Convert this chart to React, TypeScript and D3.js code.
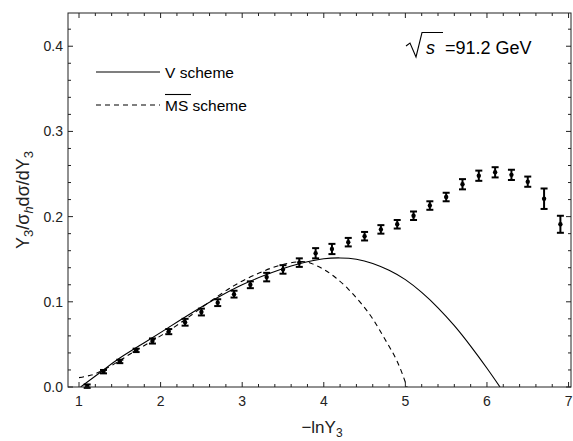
import React from "react";
import * as d3 from "d3";

const dataX = [1.1, 1.3, 1.5, 1.7, 1.9, 2.1, 2.3, 2.5, 2.7, 2.9, 3.1, 3.3, 3.5, 3.7, 3.9, 4.1, 4.3, 4.5, 4.7, 4.9, 5.1, 5.3, 5.5, 5.7, 5.9, 6.1, 6.3, 6.5, 6.7, 6.9];
const dataY = [0.001, 0.018, 0.030, 0.043, 0.054, 0.065, 0.076, 0.088, 0.099, 0.109, 0.120, 0.129, 0.138, 0.146, 0.157, 0.162, 0.170, 0.177, 0.185, 0.191, 0.201, 0.213, 0.223, 0.238, 0.248, 0.252, 0.249, 0.241, 0.221, 0.191];
const dataErr = [0.002, 0.002, 0.002, 0.002, 0.003, 0.003, 0.004, 0.004, 0.004, 0.004, 0.004, 0.005, 0.005, 0.005, 0.006, 0.006, 0.005, 0.005, 0.005, 0.005, 0.005, 0.005, 0.005, 0.006, 0.006, 0.006, 0.006, 0.006, 0.012, 0.010];

const vSchemeX = [1.02, 1.3, 1.5, 1.8, 2.1, 2.4, 2.7, 3.0, 3.3, 3.6, 3.8, 4.0, 4.2, 4.4, 4.6, 4.8, 5.0, 5.2, 5.4, 5.6, 5.8, 6.0, 6.16];
const vSchemeY = [0.0, 0.020, 0.034, 0.052, 0.070, 0.088, 0.105, 0.120, 0.132, 0.1420, 0.147, 0.1505, 0.1515, 0.150, 0.145, 0.137, 0.126, 0.111, 0.093, 0.072, 0.048, 0.022, 0.0];

const msSchemeX = [1.0, 1.15, 1.3, 1.5, 1.7, 2.1, 2.5, 2.9, 3.2, 3.45, 3.7, 3.85, 4.0, 4.15, 4.3, 4.45, 4.6, 4.75, 4.9, 5.02];
const msSchemeY = [0.011, 0.014, 0.020, 0.031, 0.043, 0.066, 0.093, 0.119, 0.1335, 0.1425, 0.147, 0.145, 0.138, 0.128, 0.115, 0.099, 0.080, 0.056, 0.030, 0.0];

const xTicks = [1, 2, 3, 4, 5, 6, 7];
const yTicks = [0.0, 0.1, 0.2, 0.3, 0.4];

const W = 573;
const H = 441;
const L = 68, R = 571, T = 13, B = 387;

export default function App() {
  const x = d3.scaleLinear().domain([0.865, 7.03]).range([L, R]);
  const y = d3.scaleLinear().domain([0, 0.439]).range([B, T]);

  const xMinor = d3.range(1, 7.01, 0.2).map((v) => +v.toFixed(2)).filter((v) => Math.abs(v - Math.round(v)) > 1e-6);
  const yMinor = d3.range(0, 0.44, 0.02).map((v) => +v.toFixed(3)).filter((v) => Math.abs(v * 10 - Math.round(v * 10)) > 1e-6);

  const line = d3.line<[number, number]>().x((d) => x(d[0])).y((d) => y(d[1])).curve(d3.curveNatural);
  const vPath = line(vSchemeX.map((v, i) => [v, vSchemeY[i]] as [number, number])) || "";
  const msPath = line(msSchemeX.map((v, i) => [v, msSchemeY[i]] as [number, number])) || "";

  const font = "'Liberation Sans', Arial, sans-serif";
  const frameColor = "#222";
  const majLen = 5, minLen = 3;

  return (
    <svg width={W} height={H} style={{ position: "absolute", left: 0, top: 0 }} fontFamily={font}>
      <rect x={0} y={0} width={W} height={H} fill="white" />
      <defs>
        <clipPath id="plot">
          <rect x={L} y={T} width={R - L} height={B - T} />
        </clipPath>
      </defs>
      {/* curves */}
      <g clipPath="url(#plot)" fill="none" stroke="black" strokeWidth={1.1}>
        <path d={vPath} />
        <path d={msPath} strokeDasharray="5,4" />
      </g>
      {/* data with error bars */}
      <g stroke="black" strokeWidth={2}>
        {dataX.map((xv, i) => {
          const cx = x(xv);
          const y0 = y(dataY[i] - dataErr[i]);
          const y1 = y(dataY[i] + dataErr[i]);
          return (
            <g key={i}>
              <line x1={cx} x2={cx} y1={y0} y2={y1} />
              <line x1={cx - 3.5} x2={cx + 3.5} y1={y0} y2={y0} />
              <line x1={cx - 3.5} x2={cx + 3.5} y1={y1} y2={y1} />
              <circle cx={cx} cy={y(dataY[i])} r={2.2} fill="black" stroke="none" />
            </g>
          );
        })}
      </g>
      {/* frame */}
      <rect x={L} y={T} width={R - L} height={B - T} fill="none" stroke={frameColor} strokeWidth={1} />
      <g stroke={frameColor} strokeWidth={1}>
        {xTicks.map((t) => (
          <g key={"xt" + t}>
            <line x1={x(t)} x2={x(t)} y1={B} y2={B - majLen} />
            <line x1={x(t)} x2={x(t)} y1={T} y2={T + majLen} />
          </g>
        ))}
        {xMinor.map((t) => (
          <g key={"xm" + t}>
            <line x1={x(t)} x2={x(t)} y1={B} y2={B - minLen} />
            <line x1={x(t)} x2={x(t)} y1={T} y2={T + minLen} />
          </g>
        ))}
        {yTicks.map((t) => (
          <g key={"yt" + t}>
            <line x1={L} x2={L + majLen} y1={y(t)} y2={y(t)} />
            <line x1={R} x2={R - majLen} y1={y(t)} y2={y(t)} />
          </g>
        ))}
        {yMinor.map((t) => (
          <g key={"ym" + t}>
            <line x1={L} x2={L + minLen} y1={y(t)} y2={y(t)} />
            <line x1={R} x2={R - minLen} y1={y(t)} y2={y(t)} />
          </g>
        ))}
      </g>
      {/* tick labels */}
      <g fontSize={14} fill="#222">
        {xTicks.map((t) => (
          <text key={"xl" + t} x={x(t)} y={406} textAnchor="middle">{t}</text>
        ))}
        {yTicks.map((t) => (
          <text key={"yl" + t} x={L - 5} y={y(t) + 5} textAnchor="end">{t.toFixed(1)}</text>
        ))}
      </g>
      {/* axis labels */}
      <text x={322} y={433} fontSize={17} textAnchor="middle" fill="#222">
        −lnY<tspan fontSize={12} dy={4}>3</tspan>
      </text>
      <text transform="translate(29,200) rotate(-90)" fontSize={18} textAnchor="middle" fill="#222">
        Y<tspan fontSize={13} dy={4}>3</tspan>
        <tspan dy={-4}>/</tspan>
        <tspan>σ</tspan>
        <tspan fontSize={13} dy={4} fontStyle="italic">h</tspan>
        <tspan dy={-4}>dσ/dY</tspan>
        <tspan fontSize={13} dy={4}>3</tspan>
      </text>
      {/* legend */}
      <line x1={96} x2={160} y1={72} y2={72} stroke="black" strokeWidth={1.1} />
      <text x={165} y={77.5} fontSize={15.5} fill="black">V scheme</text>
      <line x1={96} x2={160} y1={105} y2={105} stroke="black" strokeWidth={1.1} strokeDasharray="5,4" />
      <text x={165} y={110.5} fontSize={15.5} fill="black">MS scheme</text>
      <line x1={165} x2={191} y1={94.5} y2={94.5} stroke="black" strokeWidth={1.1} />
      {/* annotation */}
      <path d="M406,46 L410,43 L416,57 L422,32.5 L443,32.5" fill="none" stroke="black" strokeWidth={1.1} />
      <text x={426} y={54} fontSize={18} fontStyle="italic" fill="black">s</text>
      <text x={445} y={54} fontSize={18} fill="black">=91.2 GeV</text>
    </svg>
  );
}
